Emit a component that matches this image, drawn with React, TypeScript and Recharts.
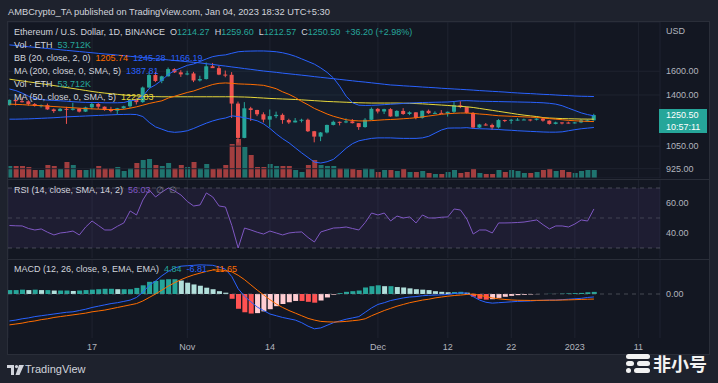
import React from 'react';
import {
  ComposedChart, Bar, Line, Area, XAxis, YAxis, CartesianGrid,
  ReferenceLine, ReferenceArea, Cell,
} from 'recharts';

// ETH/USD daily, index 0 = Oct 4 2022 ... 92 = Jan 4 2023
const opens = [
  1322, 1362, 1352, 1351, 1331, 1316, 1322, 1291, 1279, 1295,
  1288, 1297, 1275, 1306, 1331, 1311, 1287, 1282, 1299, 1314,
  1362, 1345, 1460, 1566, 1515, 1555, 1619, 1590, 1572, 1580,
  1519, 1531, 1645, 1628, 1570, 1568, 1334, 1100, 1299, 1287,
  1256, 1219, 1243, 1252, 1216, 1200, 1212, 1218, 1142, 1108,
  1134, 1183, 1204, 1200, 1207, 1195, 1169, 1218, 1295, 1276,
  1293, 1241, 1280, 1258, 1270, 1231, 1281, 1264, 1266, 1263,
  1274, 1321, 1308, 1266, 1166, 1186, 1183, 1167, 1216, 1211,
  1218, 1219, 1220, 1218, 1226, 1212, 1190, 1200, 1199, 1196,
  1200, 1214, 1214.27,
];
const highs = [
  1365, 1366, 1380, 1359, 1338, 1327, 1334, 1298, 1301, 1310,
  1340, 1300, 1311, 1338, 1341, 1313, 1310, 1302, 1318, 1365,
  1373, 1468, 1590, 1591, 1560, 1634, 1626, 1609, 1604, 1594,
  1560, 1680, 1676, 1650, 1606, 1592, 1349, 1345, 1310, 1288,
  1270, 1290, 1275, 1262, 1225, 1230, 1225, 1226, 1144, 1137,
  1185, 1212, 1206, 1228, 1223, 1196, 1229, 1305, 1301, 1296,
  1300, 1285, 1300, 1277, 1271, 1283, 1290, 1277, 1286, 1276,
  1350, 1352, 1309, 1272, 1190, 1196, 1192, 1223, 1219, 1223,
  1230, 1226, 1222, 1228, 1236, 1215, 1205, 1201, 1205, 1203,
  1223, 1221, 1259.6,
];
const lows = [
  1320, 1320, 1342, 1318, 1312, 1305, 1288, 1266, 1277, 1190,
  1283, 1269, 1272, 1293, 1294, 1281, 1270, 1254, 1295, 1302,
  1327, 1340, 1457, 1505, 1496, 1553, 1585, 1550, 1564, 1505,
  1510, 1527, 1630, 1565, 1547, 1230, 1072, 1098, 1210, 1243,
  1200, 1168, 1229, 1191, 1190, 1200, 1200, 1137, 1073, 1080,
  1128, 1180, 1180, 1195, 1193, 1151, 1165, 1216, 1262, 1258,
  1239, 1240, 1252, 1250, 1221, 1226, 1258, 1261, 1262, 1240,
  1265, 1300, 1261, 1158, 1163, 1178, 1150, 1160, 1202, 1191,
  1212, 1216, 1207, 1213, 1205, 1185, 1187, 1187, 1192, 1192,
  1195, 1205, 1212.57,
];
const closes = [
  1362, 1352, 1351, 1331, 1316, 1322, 1291, 1279, 1295, 1288,
  1297, 1275, 1306, 1331, 1311, 1287, 1282, 1299, 1314, 1362,
  1345, 1460, 1566, 1515, 1555, 1619, 1590, 1572, 1580, 1519,
  1531, 1645, 1628, 1570, 1568, 1334, 1100, 1299, 1287, 1256,
  1219, 1243, 1252, 1216, 1200, 1212, 1218, 1142, 1108, 1134,
  1183, 1204, 1200, 1207, 1195, 1169, 1218, 1295, 1276, 1293,
  1241, 1280, 1258, 1270, 1231, 1281, 1264, 1266, 1263, 1274,
  1321, 1308, 1266, 1166, 1186, 1183, 1167, 1216, 1211, 1218,
  1219, 1220, 1218, 1226, 1212, 1190, 1200, 1199, 1196, 1200,
  1214, 1214.27, 1250.5,
];
// volume, thousand ETH
const volumes = [
  480, 480, 480, 440, 320, 320, 520, 480, 360, 640,
  520, 320, 320, 400, 480, 400, 400, 440, 280, 400,
  600, 720, 760, 520, 480, 600, 400, 520, 440, 640,
  400, 560, 360, 400, 520, 1360, 1560, 1240, 920, 440,
  440, 560, 480, 480, 480, 320, 240, 520, 720, 520,
  480, 480, 400, 400, 360, 320, 400, 360, 240, 320,
  320, 280, 360, 240, 240, 280, 200, 160, 160, 240,
  320, 200, 240, 360, 200, 160, 160, 320, 240, 320,
  280, 200, 200, 240, 320, 360, 280, 320, 240, 200,
  280, 320, 320,
];
const bbUpper = [
  1448, 1435, 1415, 1390, 1372, 1365, 1360, 1358, 1355, 1352,
  1348, 1345, 1343, 1342, 1342, 1340, 1340, 1340, 1342, 1355,
  1362, 1390, 1453, 1483, 1522, 1572, 1606, 1630, 1654, 1667,
  1690, 1715, 1737, 1748, 1754, 1770, 1785, 1790, 1792, 1793,
  1793, 1790, 1785, 1775, 1760, 1740, 1715, 1690, 1665, 1630,
  1590, 1540, 1470, 1390, 1340, 1322, 1320, 1321, 1323, 1326,
  1329, 1332, 1335, 1338, 1340, 1342, 1343, 1344, 1345, 1346,
  1350, 1355, 1356, 1354, 1352, 1351, 1350, 1349, 1348, 1347,
  1346, 1345, 1344, 1342, 1340, 1336, 1330, 1318, 1300, 1283,
  1266, 1254, 1245.28,
];
const bbBasis = [
  1330, 1328, 1326, 1323, 1321, 1318, 1315, 1312, 1309, 1306,
  1303, 1300, 1297, 1295, 1293, 1291, 1290, 1290, 1292, 1300,
  1310, 1322, 1335, 1345, 1355, 1376, 1390, 1405, 1420, 1432,
  1450, 1468, 1485, 1495, 1498, 1495, 1490, 1488, 1486, 1482,
  1478, 1465, 1450, 1425, 1405, 1380, 1350, 1325, 1298, 1278,
  1258, 1242, 1230, 1218, 1213, 1210, 1210, 1212, 1215, 1218,
  1220, 1222, 1225, 1228, 1232, 1238, 1244, 1250, 1256, 1260,
  1263, 1265, 1265, 1262, 1258, 1255, 1250, 1246, 1244, 1242,
  1240, 1238, 1236, 1234, 1230, 1226, 1222, 1218, 1214, 1211,
  1209, 1207, 1205.74,
];
const bbLower = [
  1222, 1222, 1223, 1224, 1226, 1228, 1230, 1232, 1235, 1238,
  1240, 1242, 1244, 1246, 1248, 1250, 1252, 1254, 1255, 1256,
  1254, 1240, 1200, 1170, 1155, 1140, 1135, 1138, 1145, 1160,
  1178, 1195, 1210, 1222, 1230, 1245, 1240, 1232, 1222, 1211,
  1190, 1160, 1125, 1095, 1070, 1040, 1011, 985, 960, 955,
  962, 975, 1005, 1038, 1065, 1082, 1090, 1097, 1100, 1100,
  1100, 1098, 1097, 1097, 1097, 1100, 1110, 1130, 1150, 1162,
  1163, 1163, 1165, 1160, 1158, 1157, 1155, 1153, 1150, 1148,
  1145, 1143, 1141, 1139, 1137, 1136, 1136, 1138, 1145, 1152,
  1158, 1162, 1166.19,
];
const ma50 = [
  1530, 1522, 1515, 1507, 1500, 1492, 1484, 1476, 1468, 1460,
  1452, 1444, 1436, 1428, 1421, 1415, 1410, 1405, 1400, 1396,
  1393, 1390, 1388, 1387, 1386, 1386, 1386, 1386, 1386, 1386,
  1386, 1386, 1386, 1386, 1386, 1386, 1385, 1384, 1382, 1379,
  1376, 1373, 1371, 1369, 1367, 1365, 1362, 1359, 1356, 1353,
  1350, 1348, 1346, 1344, 1342, 1340, 1339, 1338, 1338, 1338,
  1338, 1338, 1337, 1336, 1334, 1332, 1329, 1326, 1323, 1320,
  1316, 1313, 1310, 1305, 1298, 1291, 1284, 1277, 1270, 1263,
  1256, 1250, 1245, 1240, 1233, 1230, 1228, 1226, 1225, 1224,
  1223, 1222.5, 1222.03,
];
const ma200 = [
  1855, 1849, 1843, 1836, 1830, 1824, 1818, 1812, 1805, 1799,
  1793, 1787, 1781, 1775, 1769, 1763, 1758, 1752, 1746, 1740,
  1734, 1728, 1722, 1716, 1711, 1705, 1699, 1694, 1688, 1682,
  1677, 1669, 1662, 1654, 1647, 1639, 1632, 1624, 1617, 1609,
  1602, 1596, 1590, 1583, 1577, 1571, 1565, 1559, 1552, 1546,
  1540, 1534, 1528, 1522, 1516, 1510, 1505, 1499, 1493, 1487,
  1481, 1478, 1474, 1471, 1468, 1464, 1461, 1458, 1454, 1451,
  1448, 1445, 1442, 1439, 1435, 1432, 1429, 1426, 1423, 1419,
  1416, 1413, 1411, 1408, 1405, 1403, 1400, 1397, 1395, 1392,
  1390, 1389, 1387.81,
];
const rsi = [
  45, 44.8, 44.7, 43, 42, 42.7, 40.5, 38.7, 40, 40.5,
  41.3, 38.7, 44, 48, 45, 42, 42, 44.5, 46.7, 54.7,
  52, 62, 68.7, 64, 67.3, 70, 68, 65.3, 61, 58,
  58.7, 66.7, 64, 58, 57.3, 45, 30, 43.3, 42, 40.5,
  39.3, 41.3, 40, 38.7, 40, 40.5, 40.7, 37, 34, 40.7,
  42, 43.3, 43.5, 44, 43, 42, 47, 53.3, 52, 53.3,
  48, 51.3, 50, 50.7, 46.7, 52, 50, 50, 50.5, 50.7,
  56, 55.3, 49.3, 39.3, 42, 42, 40, 46.7, 46.7, 46.8,
  47, 47.3, 48, 48.7, 45.5, 42.7, 44.7, 44.7, 44, 46,
  48.7, 48, 56.03,
];
const macdLine = [
  -62, -60, -57, -55, -52, -50, -48, -46, -44, -42,
  -41, -38, -35, -31, -28, -25, -22, -20, -17, -14,
  -8, 4, 20, 30, 42, 52, 60, 64, 65, 66,
  67, 66.5, 66, 62, 57, 40, 12, -5, -18, -30,
  -38, -46, -50, -54, -57, -60, -66, -74, -80, -78,
  -72, -66, -62, -58, -55, -52, -42, -32, -24, -20,
  -15, -12, -9, -7, -6, -4, -3, -2.5, -2, -1,
  1, 2.5, 2, -6, -14, -19, -21, -20, -19, -18,
  -17, -16.5, -16, -15, -14.5, -14, -14, -13, -12, -11,
  -10, -8, -6.81,
];
const macdSignal = [
  -71, -69, -67, -64, -62, -59, -57, -54, -52, -50,
  -48, -46, -44, -41, -39, -37, -34, -31, -28, -25,
  -22, -16, -8, 0, 9, 18, 26, 33, 39, 44,
  48, 52, 55, 55.5, 54, 51, 43, 33, 21, 9,
  -2, -13, -23, -31, -38, -44, -50, -56, -60, -63,
  -64, -64.5, -64, -63, -61.5, -60, -57, -50, -44, -38,
  -33, -28, -24, -20, -17, -14, -12, -9, -7, -5,
  -3.5, -2.5, -1, 0, -3, -6, -9, -11, -12.6, -13.7,
  -14.4, -14.6, -14.8, -14.6, -14.5, -14.3, -14.2, -13.9, -13.5, -13,
  -12.5, -12, -11.65,
];
const macdHist = [
  9, 9, 10, 9, 10, 9, 9, 8, 8, 8,
  7, 8, 9, 10, 11, 12, 12, 11, 11, 11,
  14, 20, 28, 30, 33, 34, 34, 31, 26, 22,
  19, 14.5, 11, 6.5, 3, -11, -34, -42, -45, -44,
  -40, -35, -28, -23, -19, -16, -16, -18, -20, -15,
  -8, -1.5, 2, 5, 6.5, 8, 15, 18, 20, 18,
  18, 16, 15, 13, 11, 10, 9, 6.5, 5, 4,
  4.5, 5, 3, -6, -11, -13, -12, -9, -6.4, -4.3,
  -2.6, -1.9, -1.2, -0.4, 0, 0.3, 0.2, 0.9, 1.5, 2,
  2.5, 4, 4.84,
];

const tickDays = [13, 28, 41, 58, 69, 79, 89, 99];
const tickLabels = ['17', 'Nov', '14', 'Dec', '12', '22', '2023', '11'];
const priceTicks = [925, 1050, 1400, 1600];
const rsiTicks = [40, 60];
const macdTicks = [0];

const UP = '#26a69a';
const DOWN = '#ef5350';
const BLUE = '#2962ff';
const ORANGE = '#ff6d00';
const YELLOW = '#e8d93b';
const PURPLE = '#7e57c2';
const TEXT = '#d1d4dc';
const AXIS = '#b2b5be';
const GRID = '#1f2330';
const FONT = "'Liberation Sans', Arial, sans-serif";

const X_DOMAIN: [number, number] = [-0.23, 102.4];
const W = 702;

const data = closes.map((c, i) => ({
  i,
  open: opens[i],
  high: highs[i],
  low: lows[i],
  close: c,
  vol: volumes[i],
  bbUp: bbUpper[i],
  bbMid: bbBasis[i],
  bbLow: bbLower[i],
  ma50: ma50[i],
  ma200: ma200[i],
  rsi: rsi[i],
  macd: macdLine[i],
  signal: macdSignal[i],
  hist: macdHist[i],
}));

const histColor = (i: number) => {
  const h = macdHist[i];
  const prev = i > 0 ? macdHist[i - 1] : h;
  if (h >= 0) return h >= prev ? '#26a69a' : '#b2dfdb';
  return h <= prev ? '#ff5252' : '#ffcdd2';
};

// candle drawn inside the [low, high] range bar, log price axis
const Candle = (props: any) => {
  const { x, y, width, height, payload } = props;
  if (x == null || y == null || !payload) return null;
  const { open, close, high, low } = payload;
  const top = Math.min(y, y + height);
  const h = Math.abs(height);
  const lh = Math.log(high);
  const span = lh - Math.log(low) || 1;
  const py = (v: number) => top + (h * (lh - Math.log(v))) / span;
  const color = close >= open ? UP : DOWN;
  const bTop = py(Math.max(open, close));
  const bBot = py(Math.min(open, close));
  const cx = x + width / 2;
  return (
    <g>
      <line x1={cx} x2={cx} y1={top} y2={top + h} stroke={color} strokeWidth={1} />
      <rect x={x} y={bTop} width={width} height={Math.max(1, bBot - bTop)} fill={color} />
    </g>
  );
};

const fmt2 = (v: number) => v.toFixed(2);

const Txt = ({ left, top, children, style }: any) => (
  <div style={{ position: 'absolute', left, top, lineHeight: '12px', whiteSpace: 'nowrap', color: TEXT, ...style }}>
    {children}
  </div>
);

const V = ({ c, children, ml = 5 }: any) => <span style={{ color: c, marginLeft: ml }}>{children}</span>;

export default function App() {
  return (
    <div style={{ position: 'fixed', left: 0, top: 0, width: 718, height: 383, background: '#1e222d', overflow: 'hidden', fontFamily: FONT, fontSize: 9 }}>
      <Txt left={8} top={6} style={{ fontSize: 9.3 }}>AMBCrypto_TA published on TradingView.com, Jan 04, 2023 18:32 UTC+5:30</Txt>

      {/* chart frame */}
      <div style={{ position: 'absolute', left: 7, top: 21, width: 703, height: 334, background: '#131722', border: '1px solid #2a2e39', boxSizing: 'border-box' }} />
      <div style={{ position: 'absolute', left: 7, top: 179, width: 703, height: 1, background: '#2a2e39' }} />
      <div style={{ position: 'absolute', left: 7, top: 259, width: 703, height: 1, background: '#2a2e39' }} />

      {/* volume layer */}
      <div style={{ position: 'absolute', left: 8, top: 22 }}>
        <ComposedChart width={W} height={156} data={data} margin={{ top: 0, right: 50, bottom: 0, left: 0 }}>
          <XAxis dataKey="i" type="number" domain={X_DOMAIN} hide allowDataOverflow />
          <YAxis domain={[0, 6240]} hide allowDataOverflow />
          <Bar dataKey="vol" barSize={5} isAnimationActive={false}>
            {data.map((d) => (
              <Cell key={d.i} fill={d.close >= d.open ? UP : DOWN} fillOpacity={0.65} />
            ))}
          </Bar>
        </ComposedChart>
      </div>

      {/* price layer */}
      <div style={{ position: 'absolute', left: 8, top: 22 }}>
        <ComposedChart width={W} height={156} data={data} margin={{ top: 0, right: 0, bottom: 0, left: 0 }}>
          <CartesianGrid stroke={GRID} />
          <XAxis dataKey="i" type="number" domain={X_DOMAIN} ticks={tickDays} hide allowDataOverflow />
          <YAxis orientation="right" width={50} scale="log" domain={[878, 2110]} allowDataOverflow
            ticks={priceTicks} interval={0} tickFormatter={fmt2} axisLine={false} tickLine={false}
            tickMargin={0} tick={{ fill: AXIS, fontSize: 9, fontFamily: FONT }} />
          <Area dataKey={(d: any) => [d.bbLow, d.bbUp]} stroke="none" fill="#2196f3" fillOpacity={0.05} isAnimationActive={false} />
          <Line dataKey="ma200" stroke={BLUE} strokeWidth={1} dot={false} isAnimationActive={false} />
          <Line dataKey="ma50" stroke={YELLOW} strokeWidth={1} dot={false} isAnimationActive={false} />
          <Line dataKey="bbUp" stroke={BLUE} strokeWidth={1} dot={false} isAnimationActive={false} />
          <Line dataKey="bbLow" stroke={BLUE} strokeWidth={1} dot={false} isAnimationActive={false} />
          <Line dataKey="bbMid" stroke={ORANGE} strokeWidth={1} dot={false} isAnimationActive={false} />
          <Bar dataKey={(d: any) => [d.low, d.high]} barSize={4} shape={Candle} isAnimationActive={false} />
        </ComposedChart>
      </div>

      {/* RSI */}
      <div style={{ position: 'absolute', left: 8, top: 180 }}>
        <ComposedChart width={W} height={78} data={data} margin={{ top: 0, right: 0, bottom: 0, left: 0 }}>
          <CartesianGrid stroke={GRID} horizontal={false} />
          <XAxis dataKey="i" type="number" domain={X_DOMAIN} ticks={tickDays} hide allowDataOverflow />
          <YAxis orientation="right" width={50} domain={[23.33, 75.33]} allowDataOverflow ticks={rsiTicks}
            interval={0} tickFormatter={fmt2} axisLine={false} tickLine={false} tickMargin={0}
            tick={{ fill: AXIS, fontSize: 9, fontFamily: FONT }} />
          <ReferenceArea y1={30} y2={70} fill={PURPLE} fillOpacity={0.1} stroke="none" />
          <ReferenceLine y={70} stroke="#787b86" strokeOpacity={0.5} strokeDasharray="4 4" />
          <ReferenceLine y={50} stroke="#787b86" strokeOpacity={0.4} strokeDasharray="4 4" />
          <ReferenceLine y={30} stroke="#787b86" strokeOpacity={0.5} strokeDasharray="4 4" />
          <Line dataKey="rsi" stroke={PURPLE} strokeWidth={1} dot={false} isAnimationActive={false} />
        </ComposedChart>
      </div>

      {/* MACD */}
      <div style={{ position: 'absolute', left: 8, top: 260 }}>
        <ComposedChart width={W} height={95} data={data} margin={{ top: 0, right: 0, bottom: 0, left: 0 }}>
          <CartesianGrid stroke={GRID} horizontal={false} />
          <XAxis dataKey="i" type="number" domain={X_DOMAIN} ticks={tickDays} interval={0} allowDataOverflow
            height={17} axisLine={false} tickLine={false} tickSize={4} tickMargin={2}
            tickFormatter={(v: number) => tickLabels[tickDays.indexOf(v)]}
            tick={{ fill: AXIS, fontSize: 9, fontFamily: FONT }} />
          <YAxis orientation="right" width={50} domain={[-101.2, 78.2]} allowDataOverflow ticks={macdTicks}
            interval={0} tickFormatter={fmt2} axisLine={false} tickLine={false} tickMargin={0}
            tick={{ fill: AXIS, fontSize: 9, fontFamily: FONT }} />
          <ReferenceLine y={0} stroke="#787b86" strokeOpacity={0.5} strokeDasharray="4 4" />
          <Bar dataKey="hist" barSize={5} isAnimationActive={false}>
            {data.map((d) => (
              <Cell key={d.i} fill={histColor(d.i)} />
            ))}
          </Bar>
          <Line dataKey="macd" stroke={BLUE} strokeWidth={1} dot={false} isAnimationActive={false} />
          <Line dataKey="signal" stroke={ORANGE} strokeWidth={1} dot={false} isAnimationActive={false} />
        </ComposedChart>
      </div>

      {/* legends */}
      <Txt left={14} top={26}>
        Ethereum / U.S. Dollar, 1D, BINANCE
        <span style={{ marginLeft: 5 }}>O</span><V c={UP} ml={0}>1214.27</V>
        <span style={{ marginLeft: 5 }}>H</span><V c={UP} ml={0}>1259.60</V>
        <span style={{ marginLeft: 5 }}>L</span><V c={UP} ml={0}>1212.57</V>
        <span style={{ marginLeft: 5 }}>C</span><V c={UP} ml={0}>1250.50</V>
        <V c={UP}>+36.20 (+2.98%)</V>
      </Txt>
      <Txt left={14} top={39}>Vol · ETH<V c={UP}>53.712K</V></Txt>
      <Txt left={14} top={52}>BB (20, close, 2, 0)<V c={ORANGE}>1205.74</V><V c={BLUE}>1245.28</V><V c={BLUE}>1166.19</V></Txt>
      <Txt left={14} top={65}>MA (200, close, 0, SMA, 5)<V c={BLUE}>1387.81</V></Txt>
      <Txt left={14} top={78}>Vol · ETH<V c={UP}>53.712K</V></Txt>
      <Txt left={14} top={91}>MA (50, close, 0, SMA, 5)<V c={YELLOW}>1222.03</V></Txt>
      <Txt left={14} top={184}>RSI (14, close, SMA, 14, 2)<V c={PURPLE}>56.03</V><V c="#787b86">∅</V><V c="#787b86">∅</V></Txt>
      <Txt left={14} top={263}>MACD (12, 26, close, 9, EMA, EMA)<V c={UP}>4.84</V><V c={BLUE}>-6.81</V><V c={ORANGE}>-11.65</V></Txt>

      {/* price scale extras */}
      <Txt left={666} top={25} style={{ color: AXIS }}>USD</Txt>
      <div style={{ position: 'absolute', left: 659, top: 109, width: 48, height: 24, background: UP, color: '#fff', lineHeight: '12px', paddingLeft: 7, boxSizing: 'border-box' }}>
        <div>1250.50</div>
        <div>10:57:11</div>
      </div>

      {/* footer */}
      <svg style={{ position: 'absolute', left: 7, top: 365 }} width={17} height={10}>
        <rect x={0} y={0} width={7} height={3} fill={TEXT} />
        <rect x={4} y={0} width={3} height={10} fill={TEXT} />
        <circle cx={9.5} cy={1.6} r={1.6} fill={TEXT} />
        <polygon points="12,0 17,0 12.5,10 8.5,10" fill={TEXT} />
      </svg>
      <Txt left={25} top={363} style={{ fontSize: 11 }}>TradingView</Txt>

      {/* watermark */}
      <div style={{ position: 'absolute', left: 626, top: 354, width: 24, height: 5, borderRadius: 3, background: '#f2f2f2' }} />
      <div style={{ position: 'absolute', left: 626, top: 361, width: 8, height: 5, borderRadius: 3, background: '#f2f2f2' }} />
      <div style={{ position: 'absolute', left: 637, top: 361, width: 13, height: 5, borderRadius: 3, background: '#f2f2f2' }} />
      <div style={{ position: 'absolute', left: 626, top: 368, width: 5, height: 5, borderRadius: 3, background: '#f2f2f2' }} />
      <div style={{ position: 'absolute', left: 634, top: 368, width: 16, height: 5, borderRadius: 3, background: '#f2f2f2' }} />
      <div style={{ position: 'absolute', left: 653, top: 352, color: '#f2f2f2', fontSize: 18, fontWeight: 700, lineHeight: '22px', fontFamily: "'Noto Sans CJK SC', sans-serif" }}>非小号</div>
    </div>
  );
}
